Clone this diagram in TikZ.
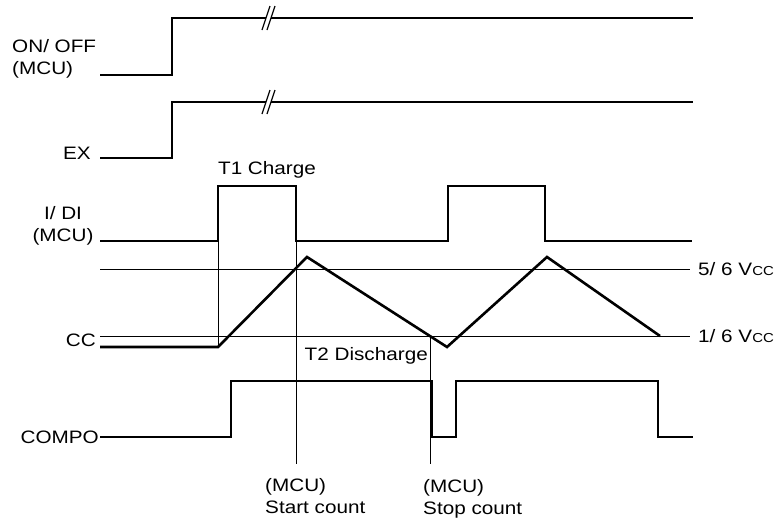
\documentclass[tikz,border=0pt]{standalone}
\usepackage{fontspec}
\setmainfont[FakeStretch=1.15]{Liberation Sans}
\usetikzlibrary{positioning}
\tikzset{
  sig/.style ={line width=2.6pt,line join=miter},
  ref/.style ={line width=0.8pt},
  brk/.style ={line width=1.2pt},
  lbl/.style ={font=\fontsize{18}{22}\selectfont,inner sep=0pt},
}
\newcommand{\vcc}{V{\fontsize{13}{15}\selectfont CC}}

\begin{document}
\begin{tikzpicture}[x=1pt,y=-1pt]
  \useasboundingbox (0,0) rectangle (783,523);
  % ON/OFF and EX, with break marks
  \foreach \lo/\hi in {75/18,158/102}{
    \draw[sig] (100,\lo) -- (172,\lo) -- (172,\hi) -- (266,\hi);
    \draw[sig] (271,\hi) -- (693,\hi);
    \draw[brk] (262,\hi+12) -- (270,\hi-12) (267,\hi+12) -- (275,\hi-12);
  }
  % I/DI
  \draw[sig] (100,241) -- (218,241) -- (218,186) -- (296,186) -- (296,241)
    -- (448,241) -- (448,186) -- (545,186) -- (545,241) -- (692,241);
  % threshold lines
  \draw[ref] (100,269) -- (690,269);
  \draw[ref] (100,336) -- (690,336);
  % CC
  \draw[sig] (100,347) -- (218,347) -- (307,257) -- (447,347) -- (547,257) -- (660,336);
  % COMPO
  \draw[sig] (100,437) -- (231,437) -- (231,381) -- (432,381) -- (432,437)
    -- (456,437) -- (456,381) -- (658,381) -- (658,437) -- (693,437);
  % markers
  \draw[ref] (218,186) -- (218,347);
  \draw[ref] (296,186) -- (296,464);
  \draw[ref] (430,336) -- (430,464);
  % labels
  \node[lbl,anchor=west,align=left] (onoff) at (12,59) {ON/ OFF\\(MCU)};
  \node[lbl,anchor=east] (ex) at (91,153) {EX};
  \node[lbl] (t1) at (267,170) {T1 Charge};
  \node[lbl,align=center] (idi) at (63,226) {I/ DI\\(MCU)};
  \node[lbl,anchor=east] (cc) at (96,340) {CC};
  \node[lbl,anchor=west] (vhi) at (698,269) {5/ 6 \vcc};
  \node[lbl,anchor=west] (vlo) at (698,336) {1/ 6 \vcc};
  \node[lbl,anchor=east] (t2) at (428,356) {T2 Discharge};
  \node[lbl,anchor=east] (compo) at (99,437) {COMPO};
  \node[lbl,anchor=west,align=left] (start) at (265,496) {(MCU)\\Start count};
  \node[lbl,anchor=west,align=left] (stop) at (423,499) {(MCU)\\Stop count};
\end{tikzpicture}
\end{document}
